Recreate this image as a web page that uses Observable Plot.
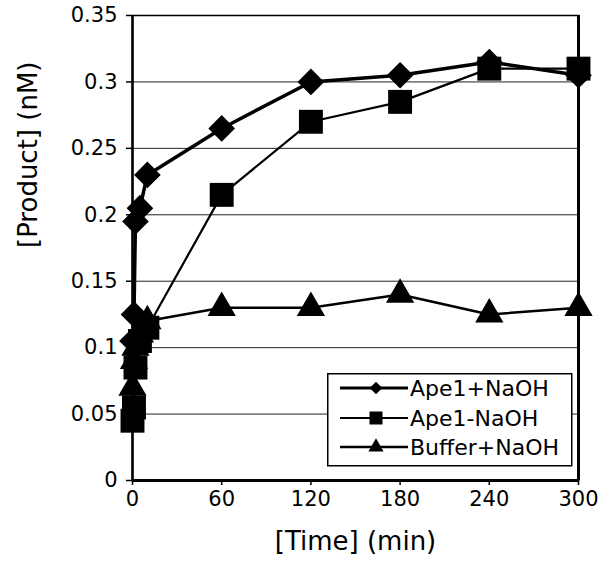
<!DOCTYPE html>
<html><head><meta charset="utf-8">
<script src="https://cdn.jsdelivr.net/npm/d3@7"></script>
<script src="https://cdn.jsdelivr.net/npm/@observablehq/plot@0.6"></script>
<style>
body{margin:0;background:#fff}
#wrap{position:relative;width:600px;height:579px;font-family:"DejaVu Sans",sans-serif}
#legend{position:absolute;left:327px;top:373px}
</style>
</head><body><div id="wrap"></div>
<script>
const seriesNames = ["Ape1+NaOH", "Ape1-NaOH", "Buffer+NaOH"];
const times = [0, 1, 2, 5, 10, 60, 120, 180, 240, 300];
const ape1PlusNaOH  = [0.105, 0.125, 0.195, 0.205, 0.23, 0.265, 0.30, 0.305, 0.315, 0.305];
const ape1MinusNaOH = [0.045, 0.055, 0.085, 0.105, 0.115, 0.215, 0.27, 0.285, 0.31, 0.31];
const bufferPlusNaOH = [0.07, 0.09, 0.10, 0.11, 0.12, 0.13, 0.13, 0.14, 0.125, 0.13];
const xTicks = [0, 60, 120, 180, 240, 300];
const yTicks = [0, 0.05, 0.1, 0.15, 0.2, 0.25, 0.3, 0.35];
const yTickLabels = ["0", "0.05", "0.1", "0.15", "0.2", "0.25", "0.3", "0.35"];
const xTitle = "[Time] (min)";
const yTitle = "[Product] (nM)";

const toRows = (vals, name) => times.map((t, i) => ({time: t, value: vals[i], series: name}));
const rowsA = toRows(ape1PlusNaOH, seriesNames[0]);
const rowsB = toRows(ape1MinusNaOH, seriesNames[1]);
const rowsC = toRows(bufferPlusNaOH, seriesNames[2]);

const chart = Plot.plot({
  width: 600, height: 579,
  marginLeft: 132, marginRight: 22, marginTop: 15, marginBottom: 99,
  style: {fontFamily: "DejaVu Sans", fontSize: "21px", color: "#000", background: "#fff"},
  x: {domain: [0, 300]},
  y: {domain: [0, 0.35]},
  marks: [
    Plot.gridY(yTicks.slice(1, -1), {stroke: "#222", strokeOpacity: 1, strokeWidth: 1}),
    Plot.frame({stroke: "#000", strokeWidth: 1.5}),
    Plot.ruleY([0], {stroke: "#000", strokeWidth: 3}),
    Plot.ruleX([300], {stroke: "#000", strokeWidth: 3}),
    Plot.ruleX([0], {stroke: "#000", strokeWidth: 2.5}),
    Plot.axisY(yTicks, {tickFormat: d => yTickLabels[yTicks.indexOf(d)], tickSize: 6, tickPadding: 9, label: null, strokeWidth: 1.5}),
    Plot.axisX(xTicks, {tickSize: 5, tickPadding: 6, label: null, strokeWidth: 1.5}),
    Plot.text([xTitle], {frameAnchor: "bottom", dy: 69, fontSize: 26, text: d => d}),
    Plot.text([yTitle], {frameAnchor: "left", dx: -104, rotate: -90, fontSize: 26, text: d => d}),
    Plot.line(rowsC, {x: "time", y: "value", stroke: "#000", strokeWidth: 2.5}),
    Plot.line(rowsB, {x: "time", y: "value", stroke: "#000", strokeWidth: 2.2}),
    Plot.line(rowsA, {x: "time", y: "value", stroke: "#000", strokeWidth: 3.5}),
    Plot.dot(rowsC, {x: "time", y: "value", symbol: "triangle", r: 10.5, fill: "#000", stroke: "none"}),
    Plot.dot(rowsB, {x: "time", y: "value", symbol: "square", r: 13.5, fill: "#000", stroke: "none"}),
    Plot.dot(rowsA, {x: "time", y: "value", symbol: "diamond2", r: 12, fill: "#000", stroke: "none"})
  ]
});
const wrap = document.getElementById("wrap");
wrap.appendChild(chart);

// Legend
const lg = d3.select(wrap).append("svg").attr("id", "legend").attr("width", 246).attr("height", 95);
lg.append("rect").attr("x", 0.75).attr("y", 0.75).attr("width", 244).attr("height", 92)
  .attr("fill", "#fff").attr("stroke", "#000").attr("stroke-width", 1.5);
const legendItems = [
  {name: seriesNames[0], sym: d3.symbolDiamond2, size: 100, sw: 3.2, y: 15},
  {name: seriesNames[1], sym: d3.symbolSquare, size: 169, sw: 2.2, y: 45},
  {name: seriesNames[2], sym: d3.symbolTriangle, size: 100, sw: 2.5, y: 74}
];
legendItems.forEach(it => {
  lg.append("line").attr("x1", 13).attr("x2", 81).attr("y1", it.y).attr("y2", it.y)
    .attr("stroke", "#000").attr("stroke-width", it.sw);
  lg.append("path").attr("d", d3.symbol(it.sym, it.size)()).attr("transform", `translate(49,${it.y})`).attr("fill", "#000");
  lg.append("text").attr("x", 83).attr("y", it.y).attr("dy", "0.36em")
    .attr("font-family", "DejaVu Sans").attr("font-size", 22).text(it.name);
});
</script>
</body></html>
